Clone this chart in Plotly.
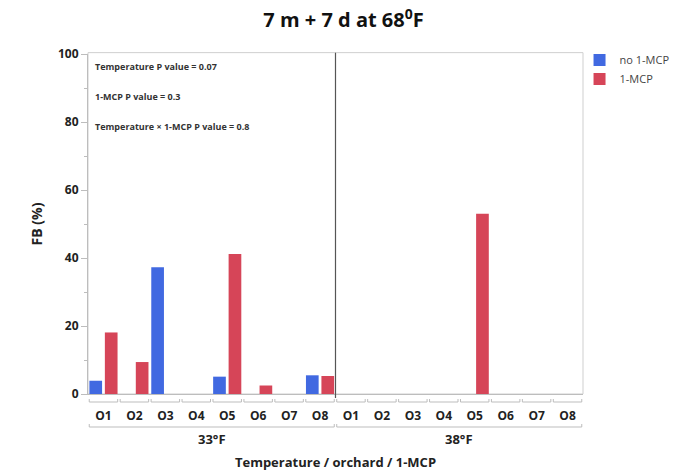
import plotly.graph_objects as go

# Fruit browning (%) by storage temperature, orchard and 1-MCP treatment
temperatures = ["33°F", "38°F"]
orchards = ["O1", "O2", "O3", "O4", "O5", "O6", "O7", "O8"]
no_mcp_33 = [3.9, 0, 37.3, 0, 5.1, 0, 0, 5.5]
mcp_33 = [18.1, 9.4, 0, 0, 41.2, 2.5, 0, 5.3]
no_mcp_38 = [0, 0, 0, 0, 0, 0, 0, 0]
mcp_38 = [0, 0, 0, 0, 53.0, 0, 0, 0]
stats_text = [
    "Temperature P value = 0.07",
    "1-MCP P value = 0.3",
    "Temperature × 1-MCP P value = 0.8",
]

BLUE = "#4169E1"
RED = "#D64558"
FONT = "Open Sans"

n_orch = len(orchards)
slots_per_temp = 2 * n_orch

# slot index: temperature block, orchard pair, treatment (0 = no 1-MCP, 1 = 1-MCP)
x_blue, y_blue, x_red, y_red = [], [], [], []
for t, (nm, m) in enumerate([(no_mcp_33, mcp_33), (no_mcp_38, mcp_38)]):
    for j in range(n_orch):
        x_blue.append(t * slots_per_temp + 2 * j)
        y_blue.append(nm[j])
        x_red.append(t * slots_per_temp + 2 * j + 1)
        y_red.append(m[j])

fig = go.Figure()
fig.add_trace(go.Bar(x=x_blue, y=y_blue, name="no 1-MCP", width=0.82,
                     marker=dict(color=BLUE, line=dict(width=0))))
fig.add_trace(go.Bar(x=x_red, y=y_red, name="1-MCP", width=0.82,
                     marker=dict(color=RED, line=dict(width=0))))

tickvals = [t * slots_per_temp + 2 * j + 0.5 for t in range(len(temperatures)) for j in range(n_orch)]
ticktext = orchards * len(temperatures)

plot_h = 476 - 54 - 82


def py(px_below):
    """paper y for a given number of pixels below the x axis"""
    return -px_below / plot_h


shapes = []
gray = "#BDBDBD"
# orchard brackets
for v in tickvals:
    x0, x1 = v - 0.5 - 0.42, v + 0.5 + 0.42
    shapes.append(dict(type="path", xref="x", yref="paper",
                       path=f"M {x0},{py(5)} L {x0},{py(8)} L {x1},{py(8)} L {x1},{py(5)}",
                       line=dict(color=gray, width=1)))
# temperature brackets
for t in range(len(temperatures)):
    x0 = t * slots_per_temp - 0.42
    x1 = (t + 1) * slots_per_temp - 1 + 0.42
    shapes.append(dict(type="path", xref="x", yref="paper",
                       path=f"M {x0},{py(30)} L {x0},{py(33)} L {x1},{py(33)} L {x1},{py(30)}",
                       line=dict(color=gray, width=1)))
# plot frame
shapes.append(dict(type="rect", xref="paper", yref="paper", x0=0, x1=1, y0=0, y1=1.004,
                   line=dict(color="#CFCFCF", width=1), layer="below"))
# divider between temperature blocks
shapes.append(dict(type="line", xref="x", yref="paper",
                   x0=slots_per_temp - 0.5, x1=slots_per_temp - 0.5, y0=py(4), y1=1.004,
                   line=dict(color="#555555", width=1.2)))

annotations = []
for i, s in enumerate(stats_text):
    annotations.append(dict(text=f"<b>{s}</b>", xref="paper", yref="paper",
                            x=0.011, y=1 - (12 + 30 * i) / plot_h, xanchor="left", yanchor="middle",
                            showarrow=False, font=dict(family=FONT, size=9, color="#333333")))
for t, name in enumerate(temperatures):
    annotations.append(dict(text=f"<b>{name}</b>", xref="x", yref="paper",
                            x=t * slots_per_temp + slots_per_temp / 2 - 0.5, y=py(45),
                            yanchor="middle", showarrow=False,
                            font=dict(family=FONT, size=13, color="#222222")))

fig.update_layout(
    width=687, height=476,
    margin=dict(l=88, r=104, t=54, b=82, autoexpand=False),
    paper_bgcolor="white", plot_bgcolor="white",
    title=dict(text="<b>7 m + 7 d at 68<sup>0</sup>F</b>", x=0.5, xanchor="center",
               y=0.957, yanchor="middle", font=dict(family=FONT, size=20, color="#111111")),
    font=dict(family=FONT, color="#222222"),
    barmode="overlay",
    showlegend=True,
    legend=dict(x=0.993, y=1.025, xanchor="left", yanchor="top",
                font=dict(family=FONT, size=11, color="#444444"),
                itemwidth=30, tracegroupgap=0, bgcolor="rgba(0,0,0,0)"),
    shapes=shapes,
    annotations=annotations,
)

fig.update_xaxes(
    range=[-0.5, 2 * slots_per_temp - 0.5],
    tickmode="array", tickvals=tickvals, ticktext=[f"<b>{t}</b>" for t in ticktext],
    ticks="", ticklabelstandoff=11, tickangle=0,
    tickfont=dict(family=FONT, size=12, color="#222222"),
    showgrid=False, zeroline=False, showline=True, linecolor="#BDBDBD", linewidth=1,
    automargin=False,
    title=dict(text="<b>Temperature / orchard / 1-MCP</b>", standoff=34,
               font=dict(family=FONT, size=13, color="#222222")),
)
fig.update_yaxes(
    range=[0, 100],
    tickmode="array", tickvals=[0, 20, 40, 60, 80, 100],
    ticktext=["<b>0</b>", "<b>20</b>", "<b>40</b>", "<b>60</b>", "<b>80</b>", "<b>100</b>"],
    ticks="outside", ticklen=6, tickcolor="#BDBDBD",
    minor=dict(tickvals=[10, 30, 50, 70, 90], ticks="outside", ticklen=3, tickcolor="#BDBDBD"),
    tickfont=dict(family=FONT, size=12, color="#222222"),
    showgrid=False, zeroline=False, showline=True, linecolor="#BDBDBD", linewidth=1,
    automargin=False,
    title=dict(text="<b>FB (%)</b>", standoff=12, font=dict(family=FONT, size=14, color="#222222")),
)

fig.write_html("out.html")
